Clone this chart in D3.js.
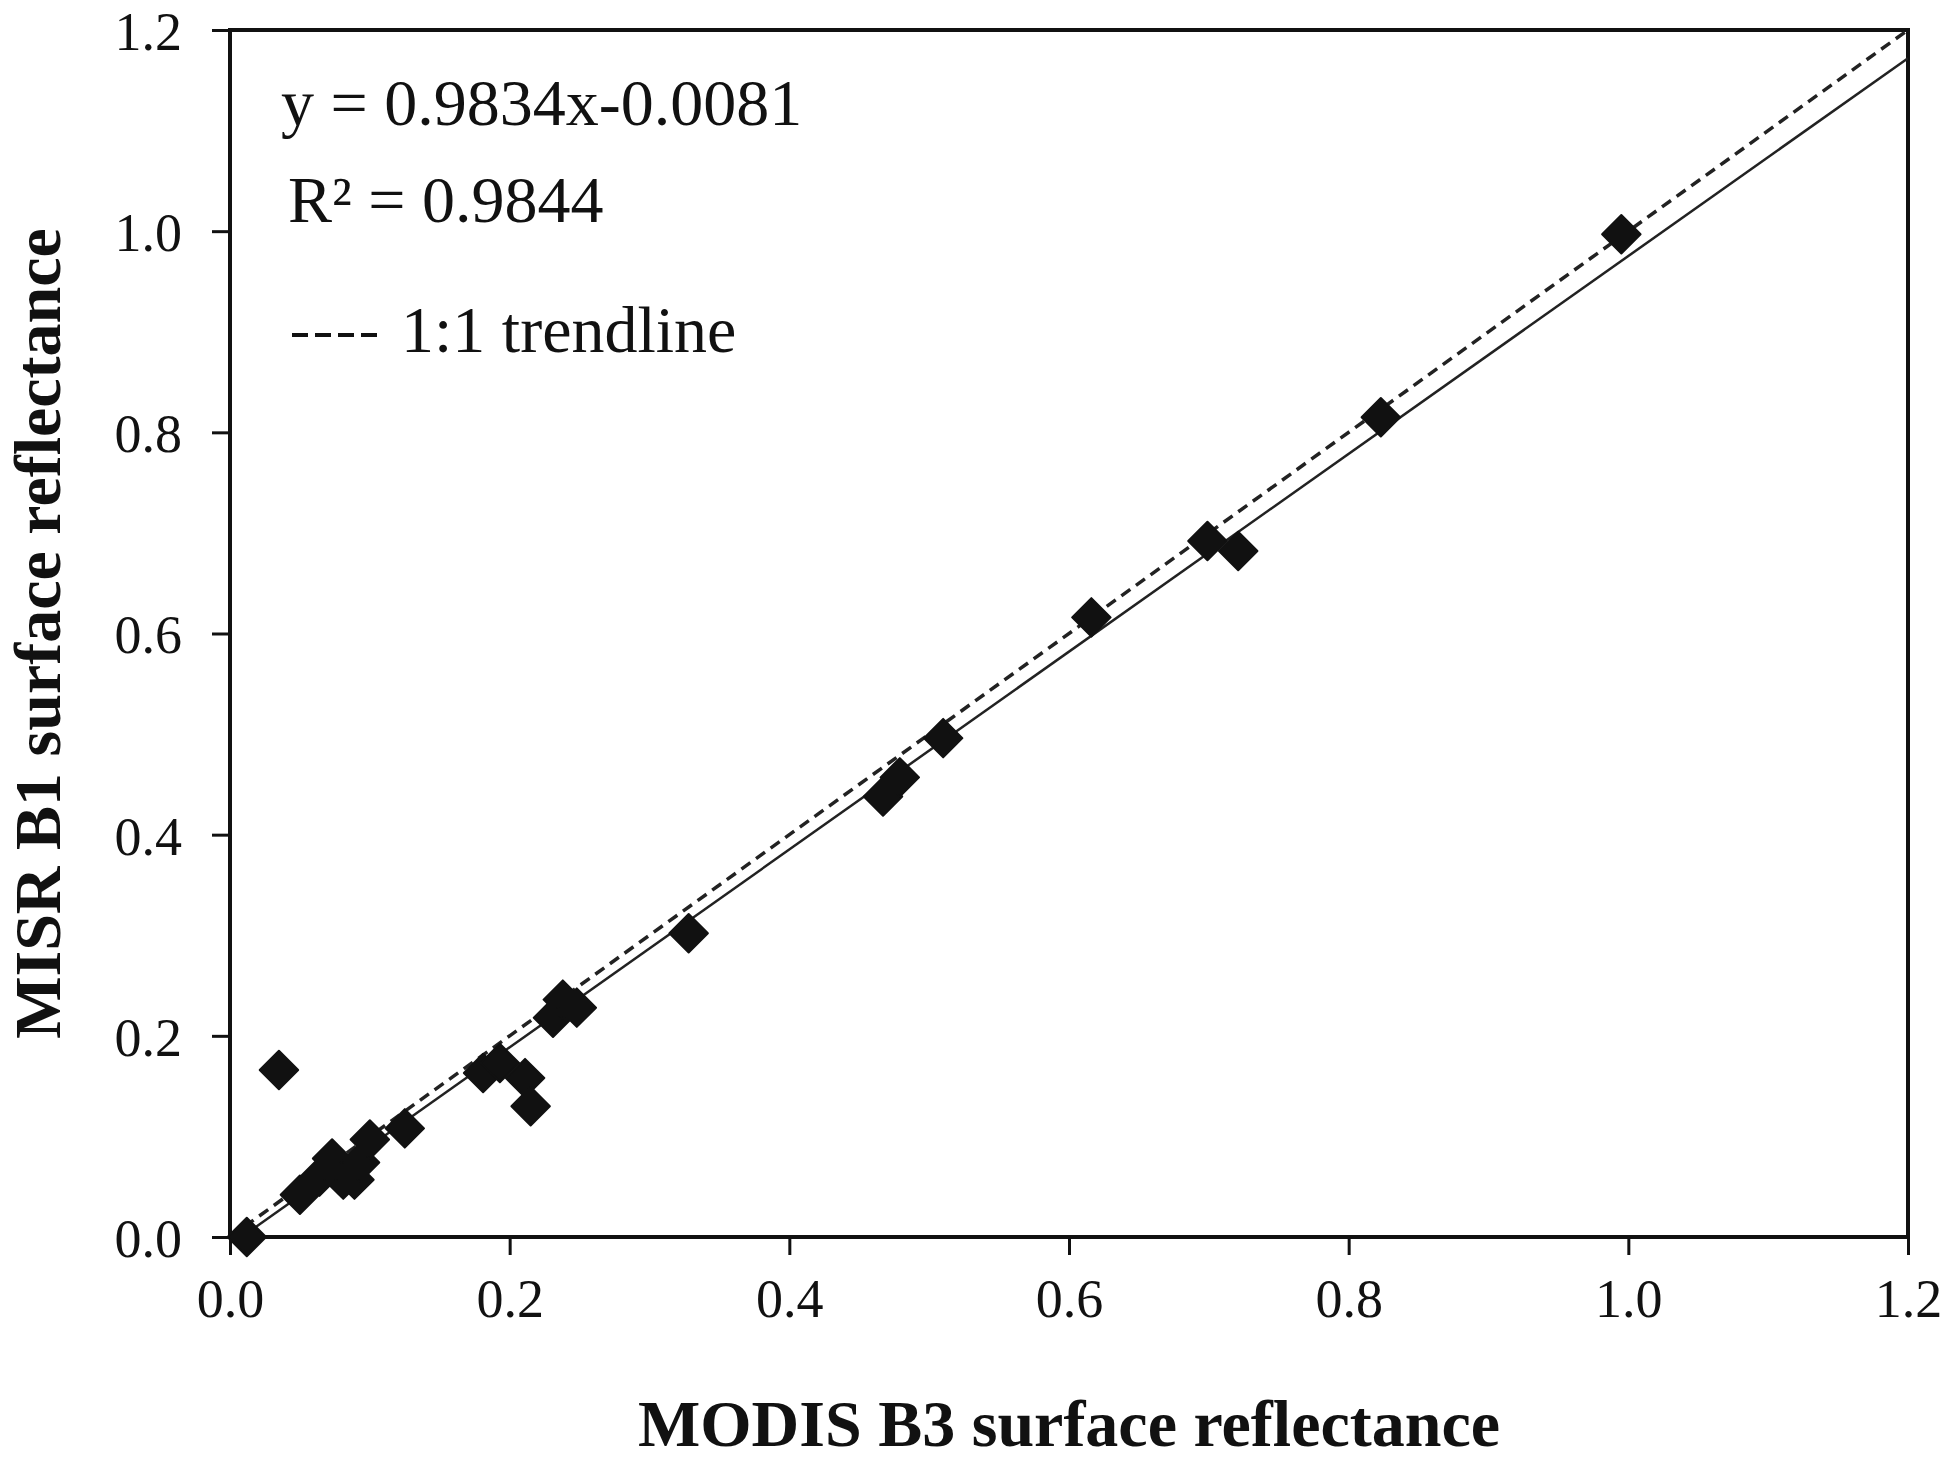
<!DOCTYPE html>
<html>
<head>
<meta charset="utf-8">
<script src="https://cdn.jsdelivr.net/npm/d3@7"></script>
<style>
  body { margin: 0; background: #fff; }
  svg { display: block; }
  .axis text { font-family: "Liberation Serif", "Times New Roman", serif; font-size: 54px; fill: #111; }
  .axis line { stroke: #111; stroke-width: 3px; }
</style>
</head>
<body>
<svg id="chart"></svg>
<script>
// MODIS B3 (x) vs MISR B1 (y) surface reflectance
var modisB3 = [0.012, 0.035, 0.050, 0.064, 0.073, 0.081, 0.089, 0.093, 0.100, 0.125,
               0.181, 0.193, 0.211, 0.215, 0.231, 0.238, 0.248, 0.328, 0.467, 0.479,
               0.510, 0.616, 0.699, 0.721, 0.823, 0.995];
var misrB1  = [0.000, 0.166, 0.042, 0.060, 0.078, 0.057, 0.057, 0.074, 0.097, 0.108,
               0.163, 0.173, 0.158, 0.130, 0.218, 0.236, 0.228, 0.302, 0.438, 0.457,
               0.496, 0.616, 0.692, 0.682, 0.815, 0.997];
var tickVals = [0, 0.2, 0.4, 0.6, 0.8, 1.0, 1.2];
var slope = 0.9834, intercept = -0.0081;
var legendLines = ["y = 0.9834x-0.0081", "R\u00B2 = 0.9844", "1:1 trendline"];

var W = 1950, H = 1464;
var margin = {top: 30, right: 42, bottom: 227, left: 230};
var width = W - margin.left - margin.right;
var height = H - margin.top - margin.bottom;

var svg = d3.select("#chart").attr("width", W).attr("height", H);
var g = svg.append("g")
    .attr("transform", "translate(" + margin.left + "," + margin.top + ")");

var x = d3.scaleLinear().domain([0, 1.2]).range([0, width]);
var y = d3.scaleLinear().domain([0, 1.2]).range([height, 0]);

// axes
var xAxis = g.append("g").attr("class", "axis")
    .attr("transform", "translate(0," + height + ")")
    .call(d3.axisBottom(x).tickValues(tickVals).tickFormat(d3.format(".1f"))
        .tickSize(18).tickPadding(24));
var yAxis = g.append("g").attr("class", "axis")
    .call(d3.axisLeft(y).tickValues(tickVals).tickFormat(d3.format(".1f"))
        .tickSize(18).tickPadding(30));
xAxis.select(".domain").remove();
yAxis.select(".domain").remove();
xAxis.selectAll("text").attr("dy", "0.71em");
yAxis.selectAll("text").attr("dy", "0.36em");

// frame
g.append("rect")
    .attr("width", width).attr("height", height)
    .attr("fill", "none").attr("stroke", "#111").attr("stroke-width", 4);

g.append("clipPath").attr("id", "clip")
    .append("rect").attr("width", width).attr("height", height);

var lines = g.append("g").attr("clip-path", "url(#clip)");

// 1:1 line
lines.append("line")
    .attr("x1", x(0)).attr("y1", y(0))
    .attr("x2", x(1.2)).attr("y2", y(1.2))
    .attr("stroke", "#222").attr("stroke-width", 3.5)
    .attr("stroke-dasharray", "11,7");

// regression line
lines.append("line")
    .attr("x1", x(0)).attr("y1", y(intercept))
    .attr("x2", x(1.2)).attr("y2", y(slope * 1.2 + intercept))
    .attr("stroke", "#222").attr("stroke-width", 2.5);

// points (not clipped, the one at 0 sits on the axis)
var diamond = d3.symbol().type(d3.symbolSquare).size(740);
g.selectAll(".pt")
    .data(modisB3.map(function(d, i) { return [d, misrB1[i]]; }))
    .enter().append("path")
    .attr("class", "pt")
    .attr("d", diamond)
    .attr("transform", function(d) {
        return "translate(" + x(d[0]) + "," + y(d[1]) + ") rotate(45)";
    })
    .attr("fill", "#111")
    .attr("stroke", "#111").attr("stroke-width", 2).attr("stroke-linejoin", "round");

// legend text
var serif = "'Liberation Serif', 'Times New Roman', serif";
svg.append("text").text(legendLines[0])
    .attr("x", 281).attr("y", 125)
    .attr("font-family", serif).attr("font-size", "66px").attr("fill", "#111");
svg.append("text").text(legendLines[1])
    .attr("x", 288).attr("y", 222)
    .attr("font-family", serif).attr("font-size", "66px").attr("fill", "#111");
svg.append("line")
    .attr("x1", 292).attr("x2", 377).attr("y1", 335).attr("y2", 335)
    .attr("stroke", "#111").attr("stroke-width", 4)
    .attr("stroke-dasharray", "16,7");
svg.append("text").text(legendLines[2])
    .attr("x", 401).attr("y", 352)
    .attr("font-family", serif).attr("font-size", "66px").attr("fill", "#111");

// axis titles
svg.append("text").text("MODIS B3 surface reflectance")
    .attr("x", margin.left + width / 2).attr("y", 1446)
    .attr("text-anchor", "middle")
    .attr("font-family", serif).attr("font-weight", "bold")
    .attr("font-size", "66px").attr("fill", "#111");
svg.append("text").text("MISR B1 surface reflectance")
    .attr("transform", "translate(60," + (margin.top + height / 2) + ") rotate(-90)")
    .attr("text-anchor", "middle")
    .attr("font-family", serif).attr("font-weight", "bold")
    .attr("font-size", "66px").attr("fill", "#111");
</script>
</body>
</html>
